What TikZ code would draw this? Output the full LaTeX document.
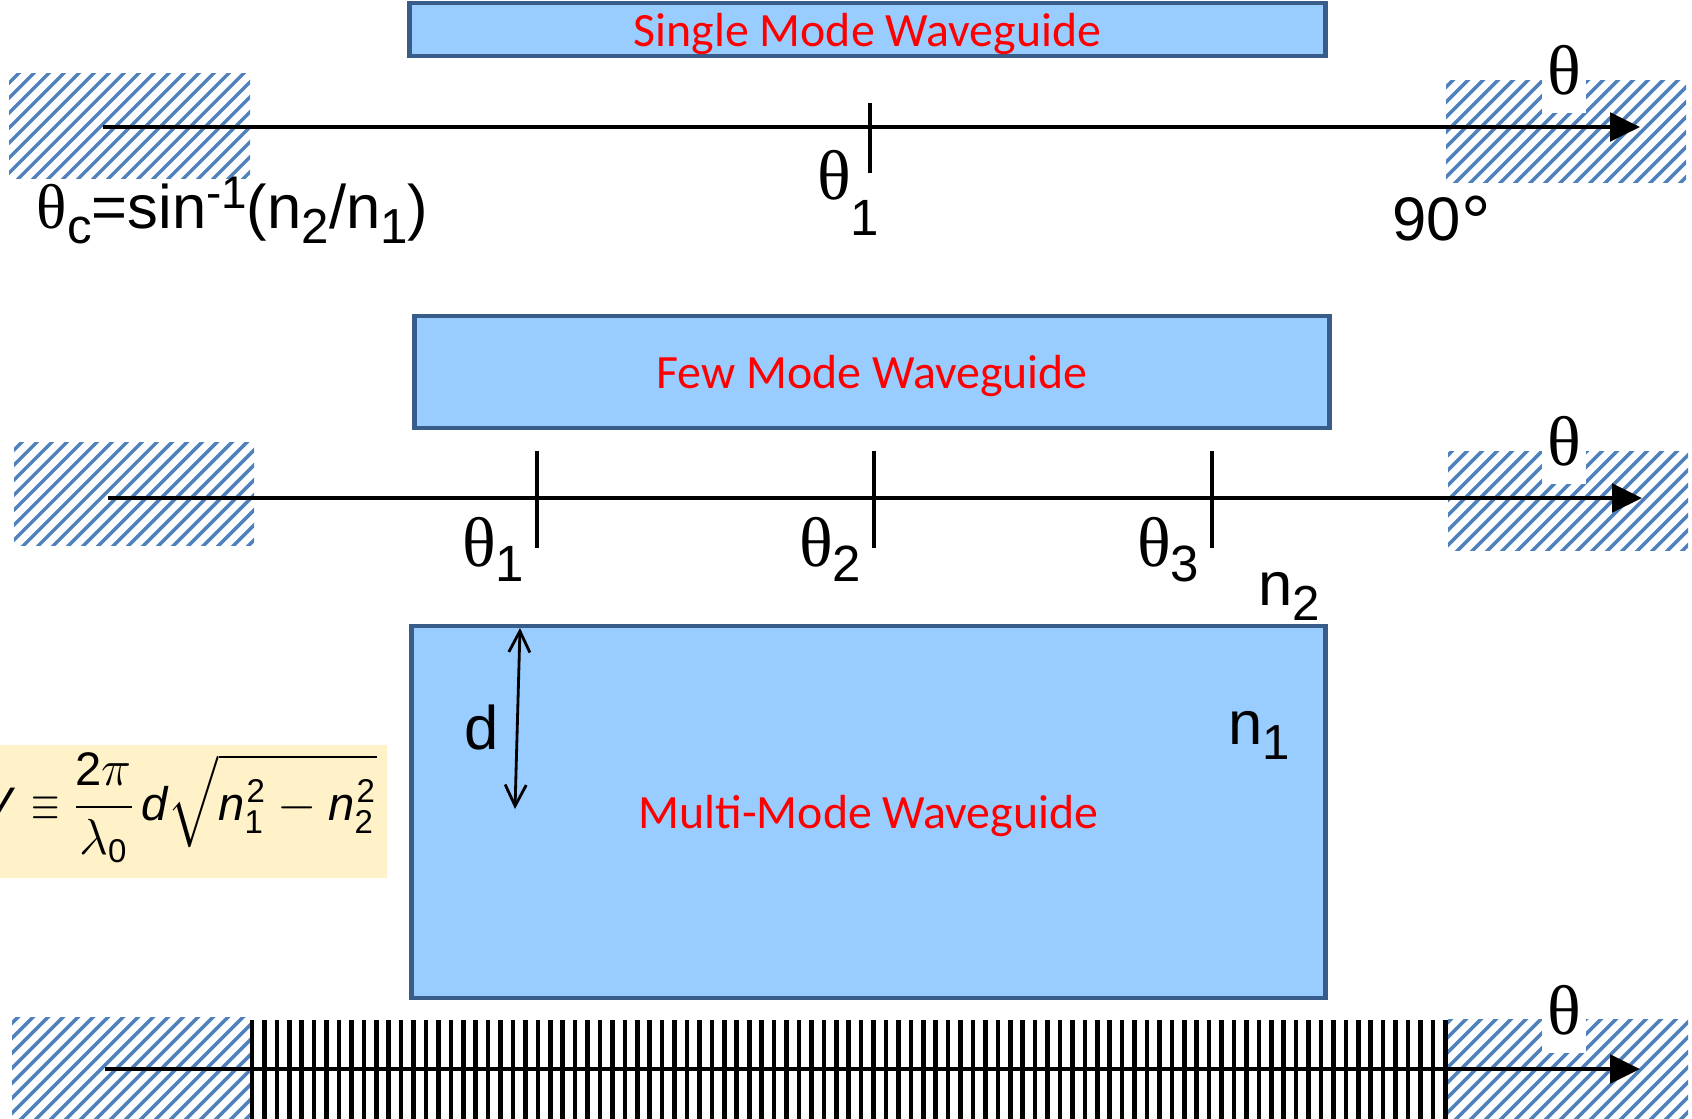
\documentclass[tikz,border=0pt]{standalone}
\usepackage{fontspec}
\usepackage{amsmath}
\usepackage{graphicx}
\setmainfont{Liberation Sans}
\newfontfamily\griega{Liberation Serif}
\newfontfamily\rotulo{Carlito}
\usetikzlibrary{arrows.meta}

\definecolor{guiafill}{HTML}{99CCFF}
\definecolor{guiaborde}{HTML}{385D8A}
\definecolor{rayado}{HTML}{4F81BD}
\definecolor{formfill}{HTML}{FFF2C8}

\newcommand{\bajo}[3][14]{\raisebox{#2}{\fontsize{#1}{#1}\selectfont #3}}
\newcommand{\alto}[2][13]{\raisebox{5.5pt}{\fontsize{#1}{#1}\selectfont #2}}
\newcommand{\tet}[1][20]{{\griega\fontsize{#1}{#1}\selectfont θ}}

\begin{document}
\begin{tikzpicture}[
        x=0.01cm, y=-0.01cm,
        guia/.style={rectangle, draw=guiaborde, fill=guiafill, line width=1.3pt, inner sep=0pt, text depth=0pt, text=red, font=\rotulo\fontsize{13.6}{16}\selectfont},
        eje/.style={line width=1.4pt, -{Triangle[length=8.5pt,width=8pt]}},
        marca/.style={line width=1.4pt},
        raya/.style={rayado, line width=1pt},
        diente/.style={line width=1.3pt},
        texto/.style={inner sep=0pt, font=\fontsize{17.5}{20}\selectfont},
        ejeth/.style={fill=white, inner xsep=1.5pt, inner ysep=5pt, font=\griega\fontsize{20}{22}\selectfont}
    ]
        \useasboundingbox (0,0) rectangle (1692,1118);

        % zonas rayadas
        \foreach \xa/\ya/\xb/\yb in {9/73/250/178, 1446/80/1686/182, 14/442/254/545, 1448/451/1688/550, 12/1017/252/1118, 1447/1019/1688/1118}{
            \begin{scope}
                \clip (\xa,\ya) rectangle (\xb,\yb);
                \foreach \k in {0,15,...,390} \draw[raya] ({\xa-130+\k},{\yb+5}) -- ++(140,-140);
            \end{scope}
        }

        % guias
        \node[guia, minimum width=9.15cm, minimum height=0.53cm] (mono) at (867.5,29.5) {Single Mode Waveguide};
        \node[guia, minimum width=9.14cm, minimum height=1.12cm] (pocos) at (872,372) {Few Mode Waveguide};
        \node[guia, minimum width=9.13cm, minimum height=3.72cm] (multi) at (868.5,812) {Multi-Mode Waveguide};

        % eje 1
        \coordinate (e1a) at (103,127);
        \coordinate (e1b) at (1640,127);
        \draw[eje] (e1a) -- (e1b);
        \draw[marca] (870,103) -- (870,173);
        \node[texto, anchor=base east] (t11) at (880,199) {\tet\bajo[14.5]{-10.5pt}{1}};
        \node[texto, anchor=base west] (tc) at (36,228) {\tet[18]\bajo{-4.5pt}{c}=sin\alto{-1}(n\bajo{-4.5pt}{2}/n\bajo{-4.5pt}{1})};
        \node[texto, anchor=base west] (noventa) at (1392,240) {90\raisebox{-2pt}{\fontsize{21}{21}\selectfont °}};
        \node[ejeth] (th1) at (1564,70) {θ};

        % eje 2
        \coordinate (e2a) at (108,498);
        \coordinate (e2b) at (1642,498);
        \draw[eje] (e2a) -- (e2b);
        \foreach \xt/\nt in {537/1, 874/2, 1212/3}{
            \draw[marca] (\xt,451) -- (\xt,548);
            \node[texto, anchor=base east] (t2\nt) at ({\xt-12},566) {\tet\bajo[14.5]{-4.5pt}{\nt}};
        }
        \node[ejeth] (th2) at (1564,441) {θ};

        % guia multimodo
        \node[texto, anchor=base west] (n2) at (1258,605) {n\bajo{-4.5pt}{2}};
        \node[texto, anchor=base west] (n1) at (1228,744) {n\bajo{-4.5pt}{1}};
        \coordinate (d1) at (520,628);
        \coordinate (d2) at (515,809);
        \draw[line width=0.8pt, {Straight Barb[length=6pt,width=6pt]}-{Straight Barb[length=6pt,width=6pt]}] (d1) -- (d2);
        \node[texto, anchor=base west] (dd) at (464,749) {d};

        % formula V
        \fill[formfill] (-20,745) rectangle (387,878);
        \node[anchor=base west, inner sep=0pt, font=\fontsize{13.4}{16}\selectfont] (vform) at (-20,820)
            {$\displaystyle \textit{V}\mkern7mu\scalebox{0.72}[1]{$\equiv$}\mkern4mu\frac{\text{2}\pi}{\lambda_{\text{0}}}\mkern2mu\textit{d}\sqrt{\textit{n}_{\text{1}}^{\mkern1mu\text{2}}-\textit{n}_{\text{2}}^{\mkern1mu\text{2}}}$};

        % eje 3
        \foreach \i in {0,...,96} \draw[diente] ({252+12.43*\i},1020) -- ++(0,110);
        \coordinate (e3a) at (105,1069);
        \coordinate (e3b) at (1640,1069);
        \draw[eje] (e3a) -- (e3b);
        \node[ejeth] (th3) at (1564,1010) {θ};
\end{tikzpicture}
\end{document}
